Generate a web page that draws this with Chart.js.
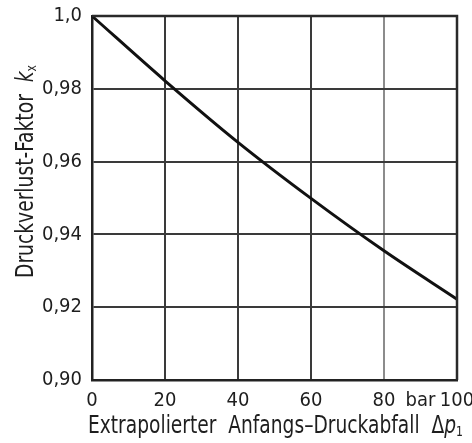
<!DOCTYPE html>
<html>
<head>
<meta charset="utf-8">
<script src="https://cdn.jsdelivr.net/npm/chart.js@4/dist/chart.umd.min.js"></script>
<style>
  html, body { margin: 0; padding: 0; background: #fff; }
  #wrap { width: 472px; height: 443px; }
</style>
</head>
<body>
<div id="wrap"><canvas id="c" width="472" height="443"></canvas></div>
<script>
// Extrapolated initial pressure drop Δp1 in bar
const pressureDrop = [0, 20, 40, 60, 80, 100];
// Pressure loss factor kx
const lossFactor = [1.0, 0.9822, 0.9653, 0.9499, 0.9355, 0.9222];

// Axis ticks and their labels
const xTickValues = [0, 20, 40, 60, 80, 90, 100];
const xTickLabels = ['0', '20', '40', '60', '80', 'bar', '100'];
const yTickValues = [0.90, 0.92, 0.94, 0.96, 0.98, 1.0];
const yTickLabels = ['0,90', '0,92', '0,94', '0,96', '0,98', '1,0'];

const FONT = "'DejaVu Sans Condensed', 'Liberation Sans Narrow', 'Liberation Sans', sans-serif";
const INK = '#1e1e1e';

// Draws a title made of styled runs, centred on (cx, baseline), squeezed to a given width
function drawRuns(ctx, runs, cx, baseY, angle, width) {
  ctx.save();
  ctx.translate(cx, baseY);
  ctx.rotate(angle);
  ctx.fillStyle = INK;
  ctx.textBaseline = 'alphabetic';
  let total = 0;
  runs.forEach(r => { ctx.font = r.font; r.w = ctx.measureText(r.text).width; total += r.w; });
  ctx.scale(width / total, 1);
  let x = -total / 2;
  runs.forEach(r => {
    ctx.font = r.font;
    ctx.fillText(r.text, x, r.dy || 0);
    x += r.w;
  });
  ctx.restore();
}

const titles = {
  id: 'axisTitles',
  afterDraw(chart) {
    const ctx = chart.ctx;
    const up = '24px ' + FONT;
    const it = 'italic 24px ' + FONT;
    const sub = '14px ' + FONT;
    drawRuns(ctx, [
      { text: 'Extrapolierter  Anfangs\u2013Druckabfall  \u0394', font: up },
      { text: 'p', font: it },
      { text: '1', font: sub, dy: 3 }
    ], 275.5, 433, 0, 375);
    drawRuns(ctx, [
      { text: 'Druckverlust-Faktor  ', font: up },
      { text: 'k', font: it },
      { text: 'x', font: sub, dy: 3 }
    ], 33, 171.5, -Math.PI / 2, 213);
  }
};

// Dark frame on the top and right edges of the plot
const frame = {
  id: 'frame',
  afterDraw(chart) {
    const a = chart.chartArea, ctx = chart.ctx;
    ctx.save();
    ctx.strokeStyle = '#2a2a2a';
    ctx.lineWidth = 2.5;
    ctx.beginPath();
    ctx.moveTo(a.left, a.top);
    ctx.lineTo(a.right, a.top);
    ctx.lineTo(a.right, a.bottom);
    ctx.stroke();
    ctx.restore();
  }
};

function noOverflow(scale) {
  scale.paddingTop = 0;
  scale.paddingBottom = 0;
  scale.paddingLeft = 0;
  scale.paddingRight = 0;
}

const points = pressureDrop.map((x, i) => ({ x: x, y: lossFactor[i] }));

new Chart(document.getElementById('c'), {
  type: 'line',
  data: {
    datasets: [{
      data: points,
      borderColor: '#111',
      borderWidth: 3,
      pointRadius: 0,
      fill: false,
      cubicInterpolationMode: 'monotone',
      clip: false
    }]
  },
  options: {
    responsive: false,
    animation: false,
    devicePixelRatio: 1,
    layout: { padding: { top: 16, right: 15, left: 0, bottom: 0 } },
    plugins: { legend: { display: false }, tooltip: { enabled: false } },
    scales: {
      x: {
        type: 'linear',
        min: 0,
        max: 100,
        afterBuildTicks(scale) { scale.ticks = xTickValues.map(v => ({ value: v })); },
        afterFit(scale) { scale.height = 63; noOverflow(scale); },
        ticks: {
          autoSkip: false,
          maxRotation: 0,
          padding: 9,
          color: INK,
          font: { family: FONT, size: 20 },
          callback(v) { const i = xTickValues.indexOf(v); return i >= 0 ? xTickLabels[i] : ''; }
        },
        grid: {
          drawTicks: false,
          lineWidth: 2,
          color(c) {
            const v = c.tick && c.tick.value;
            if (v === 90) return 'rgba(0,0,0,0)';
            if (v === 80) return '#8c8c8c';
            return '#3a3a3a';
          }
        },
        border: { color: '#222', width: 2.5 }
      },
      y: {
        type: 'linear',
        min: 0.9,
        max: 1.0,
        afterBuildTicks(scale) { scale.ticks = yTickValues.map(v => ({ value: v })); },
        afterFit(scale) { scale.width = 92; noOverflow(scale); },
        ticks: {
          autoSkip: false,
          padding: 10,
          color: INK,
          font: { family: FONT, size: 20 },
          callback(v) {
            const i = yTickValues.findIndex(t => Math.abs(t - v) < 1e-9);
            return i >= 0 ? yTickLabels[i] : '';
          }
        },
        grid: { drawTicks: false, lineWidth: 2, color: '#3a3a3a' },
        border: { color: '#222', width: 2.5 }
      }
    }
  },
  plugins: [titles, frame]
});
</script>
</body>
</html>
